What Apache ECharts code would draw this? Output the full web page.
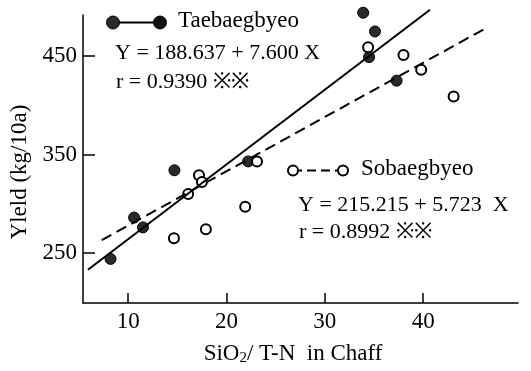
<!DOCTYPE html>
<html>
<head>
<meta charset="utf-8">
<script src="https://cdn.jsdelivr.net/npm/echarts@6/dist/echarts.min.js"></script>
<style>
  html, body { margin: 0; padding: 0; background: #fff; }
  #chart { width: 531px; height: 371px; }
</style>
</head>
<body>
<div id="chart"></div>
<script>
// Taebaegbyeo (filled circles)
const taeX = [8.2, 10.6, 11.5, 14.7, 22.2, 33.9, 35.1, 34.5, 37.3];
const taeY = [244, 286, 276, 334, 343, 494, 475, 449, 425];
// Sobaegbyeo (open circles)
const sobX = [14.65, 16.1, 17.2, 17.5, 17.9, 21.9, 23.1, 34.4, 38.0, 39.8, 43.1];
const sobY = [265, 310, 329, 322, 274, 297, 343, 459, 451, 436, 409];
// regression lines, end points
const taeLineX = [5.9, 40.7];
const taeLineY = [233, 497];
const sobLineX = [7.3, 46.5];
const sobLineY = [263, 479];

const xTicks = [10, 20, 30, 40];
const yTicks = [250, 350, 450];

const FONT = 'Liberation Serif';
const zip = (xs, ys) => xs.map((x, i) => [x, ys[i]]);

const chart = echarts.init(document.getElementById('chart'));

const opts = {
  animation: false,
  backgroundColor: '#fff',
  grid: {left: 83, right: 13, top: 15, bottom: 66},
  xAxis: {
    type: 'value',
    min: 5.4,
    max: 49.65,
    splitLine: {show: false},
    axisLine: {lineStyle: {color: '#000', width: 1.5}},
    axisTick: {inside: true, length: 10, customValues: xTicks, lineStyle: {color: '#000', width: 1.5}},
    axisLabel: {customValues: xTicks, color: '#000', fontFamily: FONT, fontSize: 23, margin: 7},
    name: '{a|SiO}{s|2}{a|/ T-N  in Chaff}',
    nameLocation: 'middle',
    nameGap: 38,
    nameTextStyle: {
      padding: [0, 15, 0, 0],
      rich: {
        a: {fontFamily: FONT, fontSize: 23, color: '#000'},
        s: {fontFamily: FONT, fontSize: 15, color: '#000', padding: [10, 0, 0, 0]}
      }
    }
  },
  yAxis: {
    type: 'value',
    min: 199.2,
    max: 491.7,
    splitLine: {show: false},
    axisLine: {lineStyle: {color: '#000', width: 1.5}},
    axisTick: {inside: true, length: 12, customValues: yTicks, lineStyle: {color: '#000', width: 1.5}},
    axisLabel: {customValues: yTicks, color: '#000', fontFamily: FONT, fontSize: 23, margin: 6},
    name: 'Yleld (kg/10a)',
    nameLocation: 'middle',
    nameRotate: 90,
    nameGap: 46,
    nameTextStyle: {fontFamily: FONT, fontSize: 23, color: '#000', padding: [0, 26, 0, 0]}
  },
  series: [
    {
      type: 'line',
      data: zip(taeLineX, taeLineY),
      showSymbol: false,
      clip: false,
      lineStyle: {color: '#000', width: 2}
    },
    {
      type: 'line',
      data: zip(sobLineX, sobLineY),
      showSymbol: false,
      clip: false,
      lineStyle: {color: '#000', width: 2, type: [11, 6]}
    },
    {
      name: 'Taebaegbyeo',
      type: 'scatter',
      data: zip(taeX, taeY),
      symbol: 'circle',
      symbolSize: 11,
      clip: false,
      itemStyle: {color: '#2a2a2a', borderColor: '#000', borderWidth: 1, opacity: 1}
    },
    {
      name: 'Sobaegbyeo',
      type: 'scatter',
      data: zip(sobX, sobY),
      symbol: 'circle',
      symbolSize: 10,
      clip: false,
      itemStyle: {color: '#fff', borderColor: '#000', borderWidth: 2, opacity: 1}
    }
  ],
  graphic: [
    // legend: Taebaegbyeo
    {type: 'line', shape: {x1: 113, y1: 22.5, x2: 160, y2: 22.5}, style: {stroke: '#000', lineWidth: 2}},
    {type: 'circle', shape: {cx: 113, cy: 22.5, r: 6.5}, style: {fill: '#2a2a2a', stroke: '#000', lineWidth: 1}},
    {type: 'circle', shape: {cx: 160, cy: 22.5, r: 6.5}, style: {fill: '#111', stroke: '#000', lineWidth: 1}},
    {type: 'text', left: 178, top: 9, style: {text: 'Taebaegbyeo', font: '23px ' + FONT, fill: '#000'}},
    {type: 'text', left: 115, top: 42, style: {text: 'Y = 188.637 + 7.600 X', font: '22px ' + FONT, fill: '#000'}},
    {type: 'text', left: 116, top: 71, style: {text: 'r = 0.9390 ※※', font: '22px ' + FONT, fill: '#000'}},
    // legend: Sobaegbyeo
    {type: 'line', shape: {x1: 293, y1: 170.5, x2: 343, y2: 170.5}, style: {stroke: '#000', lineWidth: 2, lineDash: [9, 5]}},
    {type: 'circle', shape: {cx: 293, cy: 170.5, r: 5}, style: {fill: '#fff', stroke: '#000', lineWidth: 2}},
    {type: 'circle', shape: {cx: 343, cy: 170.5, r: 5}, style: {fill: '#fff', stroke: '#000', lineWidth: 2}},
    {type: 'text', left: 361, top: 157, style: {text: 'Sobaegbyeo', font: '23px ' + FONT, fill: '#000'}},
    {type: 'text', left: 298, top: 194, style: {text: 'Y = 215.215 + 5.723  X', font: '22px ' + FONT, fill: '#000'}},
    {type: 'text', left: 299, top: 221, style: {text: 'r = 0.8992 ※※', font: '22px ' + FONT, fill: '#000'}}
  ]
};

chart.setOption(opts);
</script>
</body>
</html>
